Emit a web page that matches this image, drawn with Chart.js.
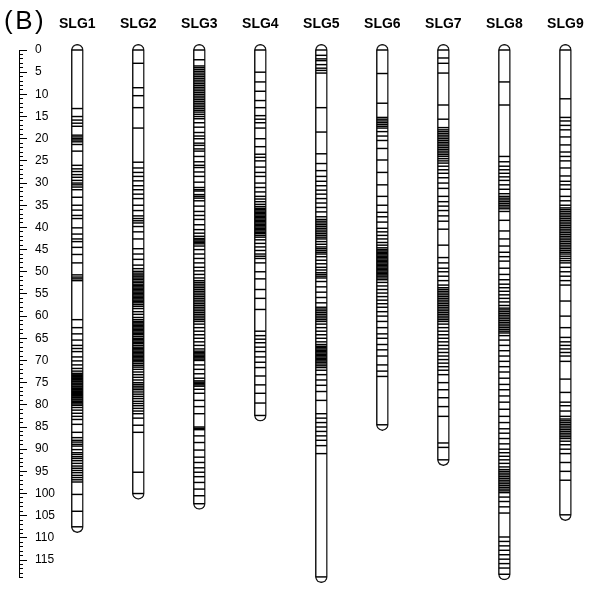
<!DOCTYPE html>
<html>
<head>
<meta charset="utf-8">
<script src="https://cdn.jsdelivr.net/npm/chart.js@4.4.1/dist/chart.umd.min.js"></script>
<style>
  html, body { margin: 0; padding: 0; background: #fff; }
  #wrap { position: relative; width: 602px; height: 601px; }
  #panel { position: absolute; left: 4px; top: 5px; font: 26px "Liberation Sans", Arial, sans-serif; letter-spacing: 2.5px; color: #000; }
  canvas { position: absolute; left: 0; top: 0; }
</style>
</head>
<body>
<div id="wrap">
  <canvas id="map" width="602" height="601"></canvas>
  <div id="panel">(B)</div>
</div>
<script>
// ─── Linkage groups (cM) ──────────────────────────────────────────────────────

const LG_NAMES   = ['SLG1', 'SLG2', 'SLG3', 'SLG4', 'SLG5', 'SLG6', 'SLG7', 'SLG8', 'SLG9'];
const LG_LENGTHS = [107.5, 100.0, 102.3, 82.4, 118.8, 84.5, 92.4, 118.2, 104.8];

const SLG1_MARKERS = [0, 13.2, 15.0, 15.8, 16.5, 17.2, 19.2, 19.6, 20.0, 20.3, 20.7, 21.3, 22.8, 26.0, 26.8, 27.4,
    28.1, 28.7, 29.4, 30.0, 30.4, 30.9, 31.5, 33.2, 35.0, 36.1, 37.3, 38.0, 40.1, 41.5, 42.6, 43.2, 44.5, 46.1,
    48.0, 50.7, 51.2, 51.6, 52.0, 60.8, 62.6, 64.0, 65.4, 66.6, 67.3, 68.0, 69.2, 70.1, 71.0, 71.8, 72.4, 72.9,
    73.1, 73.4, 73.6, 73.9, 74.1, 74.3, 74.6, 74.8, 75.1, 75.3, 75.5, 75.8, 76.0, 76.3, 76.5, 76.7, 77.0, 77.2,
    77.5, 77.7, 77.9, 78.2, 78.4, 78.7, 78.9, 79.2, 79.5, 79.8, 80.1, 80.6, 81.2, 81.9, 82.6, 83.3, 84.4, 86.2,
    87.4, 88.0, 88.4, 88.9, 89.3, 90.1, 90.8, 91.2, 91.7, 92.1, 92.6, 93.2, 93.8, 94.3, 94.8, 95.3, 95.9, 96.4,
    96.9, 97.4, 100.2, 104.0, 107.5];
const SLG2_MARKERS = [0, 3.0, 8.5, 10.3, 13.0, 17.6, 25.3, 26.6, 27.6, 28.5, 29.5, 30.6, 31.5, 32.5, 33.5, 35.0,
    36.2, 37.4, 38.0, 38.5, 39.0, 39.8, 41.0, 42.6, 44.8, 46.0, 47.2, 48.5, 49.3, 49.9, 50.3, 50.7, 51.0, 51.4,
    51.7, 52.1, 52.4, 52.8, 53.1, 53.4, 53.7, 54.0, 54.3, 54.6, 54.9, 55.2, 55.5, 55.8, 56.1, 56.4, 56.7, 57.0,
    57.4, 57.8, 58.3, 59.0, 59.6, 60.3, 60.8, 61.2, 61.5, 61.8, 62.1, 62.4, 62.7, 63.0, 63.3, 63.6, 63.9, 64.2,
    64.6, 65.0, 65.3, 65.6, 65.9, 66.2, 66.6, 67.0, 67.3, 67.6, 67.9, 68.2, 68.5, 68.8, 69.1, 69.4, 69.7, 70.0,
    70.3, 70.7, 71.1, 71.5, 72.0, 72.6, 73.2, 73.8, 74.4, 75.0, 75.4, 75.8, 76.2, 76.6, 77.1, 77.6, 78.1, 78.6,
    79.2, 79.7, 80.2, 80.8, 81.4, 82.0, 83.0, 84.6, 86.2, 95.2, 100.0];
const SLG3_MARKERS = [0, 2.2, 3.6, 4.0, 4.4, 4.8, 5.2, 5.6, 6.0, 6.4, 6.8, 7.2, 7.6, 8.0, 8.4, 8.8, 9.2, 9.6, 10.0,
    10.4, 10.8, 11.2, 11.6, 12.0, 12.4, 12.8, 13.2, 13.6, 14.0, 14.5, 15.0, 15.5, 16.4, 17.4, 18.6, 19.4, 20.0,
    21.0, 21.5, 22.3, 22.8, 24.0, 25.2, 26.0, 26.5, 27.5, 28.5, 29.8, 31.0, 31.5, 31.8, 32.6, 33.0, 33.4, 34.0,
    35.2, 36.4, 37.3, 38.2, 39.4, 40.5, 41.3, 42.0, 42.5, 42.8, 43.1, 43.4, 43.7, 44.2, 45.0, 46.0, 47.0, 48.0,
    49.0, 49.8, 50.6, 51.4, 52.0, 52.4, 52.8, 53.2, 53.6, 54.0, 54.4, 54.8, 55.2, 55.6, 56.0, 56.4, 56.8, 57.2,
    57.6, 58.0, 58.4, 58.8, 59.2, 59.6, 60.0, 60.4, 60.8, 61.2, 61.8, 62.6, 63.4, 64.2, 65.0, 65.8, 66.6, 67.4,
    67.9, 68.2, 68.5, 68.8, 69.1, 69.4, 69.7, 70.0, 71.0, 72.0, 73.0, 74.0, 74.6, 74.9, 75.2, 75.5, 75.8, 76.5,
    77.4, 79.0, 80.4, 82.0, 85.0, 85.3, 85.6, 87.0, 88.5, 90.2, 91.8, 93.0, 94.2, 95.2, 96.2, 97.5, 99.0, 100.5,
    102.3];
const SLG4_MARKERS = [0, 5.0, 7.2, 9.3, 11.4, 13.0, 14.8, 15.6, 16.4, 17.6, 20.0, 21.8, 23.5, 24.2, 25.0, 26.4,
    27.6, 28.5, 30.0, 31.0, 32.0, 33.0, 33.6, 34.2, 34.8, 35.3, 35.7, 36.0, 36.3, 36.6, 36.9, 37.2, 37.5, 37.8,
    38.1, 38.4, 38.7, 39.0, 39.3, 39.6, 39.9, 40.2, 40.5, 40.8, 41.1, 41.4, 41.8, 42.2, 42.8, 43.6, 44.4, 45.2,
    46.0, 46.5, 47.0, 48.0, 50.0, 51.6, 54.0, 56.0, 58.5, 63.4, 64.4, 65.2, 66.0, 67.0, 68.0, 69.2, 70.4, 71.6,
    73.5, 75.5, 77.4, 79.6, 82.4];
const SLG5_MARKERS = [0, 1.2, 2.0, 2.4, 3.3, 4.1, 4.6, 5.2, 13.0, 18.5, 23.4, 25.6, 27.2, 28.5, 29.6, 30.6, 31.6,
    32.5, 33.5, 34.5, 35.5, 36.5, 37.6, 38.2, 38.6, 39.0, 39.4, 39.8, 40.2, 40.6, 41.0, 41.4, 41.8, 42.2, 42.6,
    43.2, 43.8, 44.4, 44.8, 45.2, 45.6, 46.0, 46.6, 47.4, 48.2, 49.0, 49.6, 50.2, 50.6, 51.0, 51.4, 52.2, 53.4,
    54.6, 55.8, 57.0, 58.0, 58.4, 58.8, 59.2, 59.6, 60.0, 60.4, 60.8, 61.2, 61.8, 62.6, 63.4, 64.2, 65.0, 65.8,
    66.4, 66.8, 67.1, 67.4, 67.7, 68.0, 68.3, 68.6, 68.9, 69.2, 69.5, 69.8, 70.1, 70.4, 70.8, 71.2, 71.6, 72.2,
    73.2, 74.4, 75.6, 77.0, 79.0, 82.0, 83.0, 84.0, 85.0, 86.0, 87.0, 88.0, 89.2, 91.0, 118.8];
const SLG6_MARKERS = [0, 5.3, 12.0, 15.2, 15.6, 16.0, 16.4, 16.8, 17.2, 17.6, 18.4, 19.4, 20.4, 22.2, 24.8, 27.6,
    30.4, 33.0, 35.0, 36.6, 37.6, 38.8, 40.2, 41.0, 41.8, 42.6, 43.4, 44.0, 44.6, 45.0, 45.3, 45.6, 45.9, 46.2,
    46.5, 46.8, 47.1, 47.4, 47.7, 48.0, 48.3, 48.6, 48.9, 49.2, 49.5, 49.8, 50.1, 50.4, 50.7, 51.0, 51.4, 51.8,
    52.4, 53.2, 54.0, 54.8, 55.6, 56.4, 57.2, 58.0, 59.0, 60.0, 61.2, 62.6, 64.0, 65.0, 66.4, 67.6, 69.0, 71.0,
    72.4, 73.6, 84.5];
const SLG7_MARKERS = [0, 1.8, 3.0, 5.2, 12.4, 15.6, 17.5, 18.0, 18.4, 18.8, 19.2, 19.6, 20.0, 20.4, 20.8, 21.2,
    21.6, 22.0, 22.4, 22.8, 23.2, 23.6, 24.0, 24.5, 25.0, 25.5, 26.2, 27.0, 27.8, 28.8, 30.0, 31.2, 33.0, 34.2,
    35.2, 36.2, 37.4, 38.6, 40.4, 44.0, 46.8, 48.0, 49.2, 50.0, 51.0, 52.0, 53.0, 53.6, 54.0, 54.4, 54.8, 55.2,
    55.6, 56.0, 56.4, 56.8, 57.2, 57.6, 58.0, 58.4, 58.8, 59.2, 59.6, 60.0, 60.4, 60.8, 61.2, 61.8, 62.6, 63.4,
    64.2, 65.0, 65.8, 66.6, 67.4, 68.2, 69.0, 69.8, 70.6, 71.4, 72.2, 73.2, 75.0, 76.6, 78.4, 80.4, 82.6, 88.6,
    89.6, 92.4];
const SLG8_MARKERS = [0, 7.2, 12.4, 24.0, 25.2, 26.2, 27.0, 27.8, 28.6, 29.4, 30.4, 31.4, 32.4, 33.0, 33.4, 33.8,
    34.2, 34.6, 35.0, 35.4, 35.8, 36.4, 38.4, 40.8, 42.6, 44.2, 45.6, 46.6, 47.6, 49.2, 50.6, 51.8, 52.8, 53.6,
    54.4, 55.2, 56.0, 56.8, 57.6, 58.2, 58.6, 59.0, 59.4, 59.8, 60.2, 60.6, 61.0, 61.4, 61.8, 62.2, 62.6, 63.0,
    63.4, 63.8, 64.4, 65.4, 66.6, 67.8, 69.0, 70.2, 71.4, 72.6, 74.0, 75.4, 76.6, 78.0, 79.4, 81.0, 82.6, 84.0,
    85.4, 86.4, 87.6, 88.8, 90.0, 90.8, 91.6, 92.4, 93.2, 94.0, 94.6, 95.0, 95.4, 95.8, 96.2, 96.6, 97.0, 97.4,
    97.8, 98.2, 98.6, 99.0, 99.4, 99.8, 100.8, 101.8, 103.0, 104.4, 109.8, 110.8, 111.8, 112.8, 113.8, 114.8,
    115.8, 116.8, 118.2];
const SLG9_MARKERS = [0, 11.0, 15.2, 16.0, 17.0, 18.0, 19.6, 21.4, 23.0, 24.0, 25.0, 26.6, 28.4, 29.6, 30.4, 31.4,
    33.0, 34.0, 35.0, 35.6, 36.0, 36.4, 36.8, 37.2, 37.6, 38.0, 38.4, 38.8, 39.2, 39.6, 40.0, 40.4, 40.8, 41.2,
    41.6, 42.0, 42.4, 42.8, 43.2, 43.6, 44.0, 44.4, 44.8, 45.2, 45.6, 46.0, 46.5, 47.0, 47.5, 48.0, 49.0, 50.0,
    51.0, 52.0, 53.0, 56.6, 60.0, 62.6, 64.8, 65.8, 66.6, 67.4, 68.2, 69.0, 70.2, 74.2, 77.2, 79.4, 80.2, 81.4,
    82.6, 83.2, 83.6, 84.0, 84.4, 84.8, 85.2, 85.6, 86.0, 86.4, 86.8, 87.2, 87.6, 88.2, 89.0, 90.0, 91.0, 93.0,
    95.0, 97.0, 104.8];

const MARKERS = [SLG1_MARKERS, SLG2_MARKERS, SLG3_MARKERS, SLG4_MARKERS, SLG5_MARKERS,
                 SLG6_MARKERS, SLG7_MARKERS, SLG8_MARKERS, SLG9_MARKERS];

const AXIS_MAX = 119;   // ruler runs a little past 115
const CAP = 1.3;        // rounded ends stick out past the terminal markers

// ─── Build datasets ───────────────────────────────────────────────────────────

const FONT = '"Liberation Sans", Arial, Helvetica, sans-serif';

const chromosomes = LG_NAMES.map((name, i) => ({ x: i + 1, y: [-CAP, LG_LENGTHS[i] + CAP] }));

const markerPoints = [];
MARKERS.forEach((list, i) => list.forEach(cm => markerPoints.push({ x: i + 1, y: cm })));

new Chart(document.getElementById('map'), {
    type: 'bar',
    data: {
        datasets: [
            {
                type: 'scatter',
                data: markerPoints,
                pointStyle: 'line',
                pointRadius: 5.5,
                borderColor: '#000',
                borderWidth: 1.45,
                order: 1,
                clip: false
            },
            {
                type: 'bar',
                data: chromosomes,
                backgroundColor: '#fff',
                borderColor: '#1a1a1a',
                borderWidth: 1.5,
                borderRadius: 6,
                borderSkipped: false,
                barThickness: 12,
                order: 2,
                clip: false
            }
        ]
    },
    options: {
        responsive: false,
        animation: false,
        events: [],
        layout: { padding: { top: 0, left: 0, right: 0, bottom: 6 } },
        plugins: { legend: { display: false }, tooltip: { enabled: false } },
        scales: {
            x: {
                type: 'linear',
                position: 'top',
                offset: false,
                min: 0.0445,
                max: 9.486,
                afterBuildTicks(scale) { scale.ticks = LG_NAMES.map((n, i) => ({ value: i + 1 })); },
                afterFit(scale) { scale.height = 50; },
                ticks: {
                    callback: v => LG_NAMES[v - 1] || '',
                    autoSkip: false,
                    maxRotation: 0,
                    padding: 9.3,
                    color: '#000',
                    font: { family: FONT, size: 14, weight: 'bold' }
                },
                grid: { display: false, offset: false },
                border: { display: false }
            },
            y: {
                type: 'linear',
                position: 'left',
                weight: 0,
                reverse: true,
                min: 0,
                max: AXIS_MAX,
                afterFit(scale) { scale.width = 0; },
                ticks: {
                    stepSize: 5,
                    includeBounds: false,
                    mirror: true,
                    padding: 16,
                    color: '#000',
                    font: { family: FONT, size: 12 }
                },
                grid: { drawOnChartArea: false, tickLength: -8, color: '#000', lineWidth: 1 },
                border: { display: true, color: '#000', width: 1 }
            },
            yMinor: {
                type: 'linear',
                position: 'left',
                weight: 1,
                reverse: true,
                min: 0,
                max: AXIS_MAX,
                afterFit(scale) { scale.width = 19; },
                ticks: { stepSize: 1, display: false },
                grid: { drawOnChartArea: false, tickLength: -4, color: '#000', lineWidth: 1 },
                border: { display: true, color: '#000', width: 1 }
            }
        }
    }
});
</script>
</body>
</html>
